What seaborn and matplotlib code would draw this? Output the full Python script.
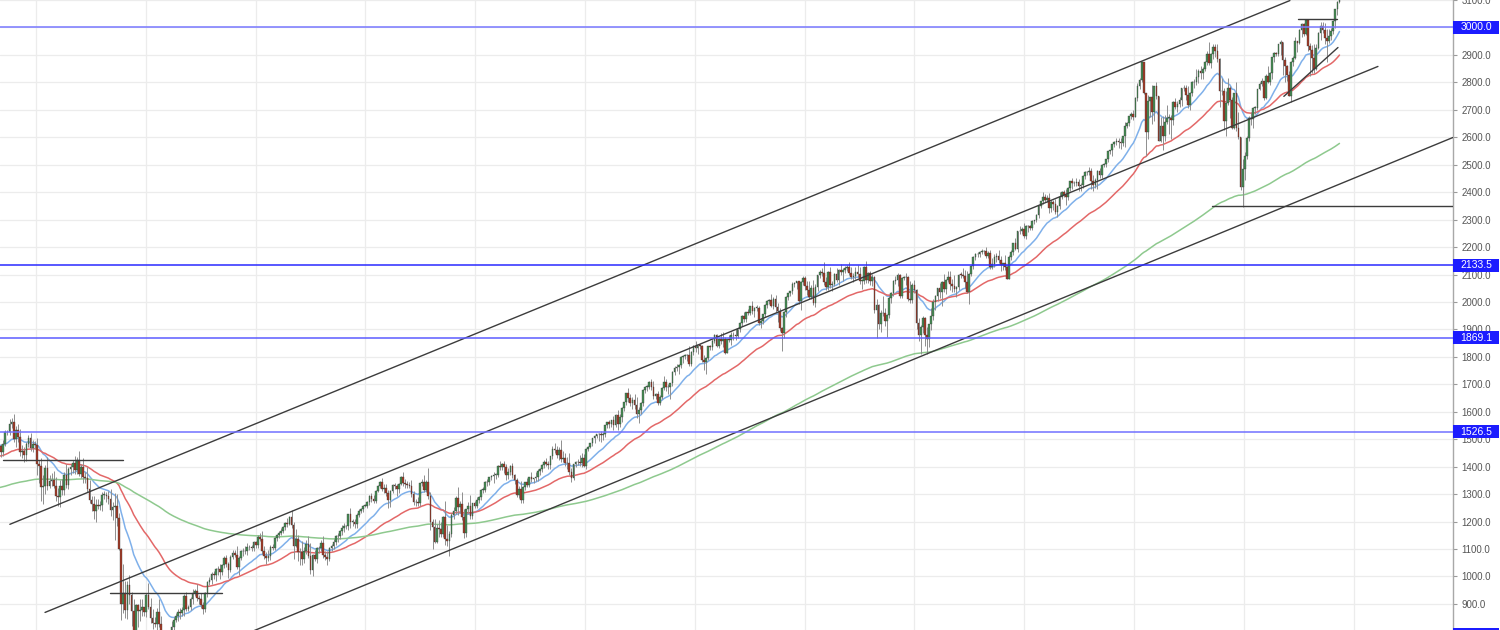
"""Weekly S&P 500 candles 2007-2019 with 20/50/200 week EMAs, channels and levels."""

###########
# Imports #
###########
import numpy as np
import pandas as pd
import matplotlib
matplotlib.use('Agg')
import matplotlib.pyplot as plt
import matplotlib.dates as mdates
from matplotlib.patches import Rectangle
from matplotlib.ticker import FormatStrFormatter
from matplotlib.transforms import blended_transform_factory
import seaborn as sns

########
# Data #
########
# Weekly closes before the visible window (2003-10-31 .. 2007-08-31),
# only used to warm up the moving averages
hist_closes = [
    1051, 1058, 1050, 1035, 1058, 1061, 1074, 1088, 1095,
    # 2004
    1108, 1122, 1139, 1141, 1131, 1142, 1146, 1144, 1145, 1156, 1120, 1109, 1108,
    1141, 1139, 1134, 1140, 1107, 1098, 1096, 1093, 1121, 1123, 1137, 1135, 1141,
    1126, 1112, 1101, 1086, 1101, 1064, 1065, 1099, 1107, 1114, 1123, 1128, 1110,
    1131, 1122, 1109, 1096, 1130, 1166, 1185, 1170, 1183, 1191, 1189, 1195, 1211, 1212,
    # 2005
    1186, 1184, 1168, 1171, 1203, 1201, 1201, 1211, 1222, 1200, 1190, 1172,
    1172, 1182, 1142, 1153, 1157, 1179, 1171, 1190, 1199, 1197, 1201, 1216, 1191,
    1211, 1212, 1228, 1234, 1234, 1227, 1231, 1219, 1206, 1218, 1241, 1238, 1216, 1229,
    1196, 1186, 1178, 1199, 1220, 1235, 1248, 1266, 1265, 1260, 1267, 1268, 1248,
    # 2006
    1286, 1288, 1262, 1283, 1265, 1267, 1289, 1289, 1288, 1281, 1307, 1302, 1295,
    1296, 1289, 1312, 1311, 1326, 1292, 1267, 1280, 1289, 1252, 1257, 1244, 1270,
    1265, 1236, 1240, 1279, 1280, 1266, 1302, 1296, 1312, 1299, 1319, 1315, 1336,
    1350, 1366, 1368, 1377, 1364, 1380, 1400, 1401, 1396, 1409, 1427, 1410, 1418,
    # 2007 Jan-Aug
    1410, 1431, 1431, 1422, 1449, 1438, 1456, 1445, 1387, 1402, 1386, 1436, 1421,
    1444, 1453, 1484, 1495, 1505, 1505, 1522, 1515, 1536, 1507, 1532, 1503, 1503,
    1530, 1552, 1553, 1458, 1433, 1453, 1445, 1479, 1474,
]

# Visible weekly closes, 2007-09-07 .. 2019-11-15
closes = [
    # 2007 Sep-Dec
    1454, 1484, 1525, 1527, 1557, 1561, 1501, 1535, 1509, 1453, 1458, 1441, 1481,
    1504, 1468, 1484, 1478,
    # 2008
    1411, 1401, 1325, 1330, 1395, 1331, 1349, 1353, 1331, 1294, 1288, 1330, 1316,
    1370, 1333, 1390, 1398, 1413, 1388, 1426, 1375, 1400, 1361, 1360, 1318, 1278,
    1263, 1239, 1261, 1257, 1260, 1297, 1298, 1292, 1283, 1242, 1252, 1255, 1213,
    1100, 899, 940, 877, 968, 931, 873, 800, 896, 876, 879, 887, 872,
    # 2009
    931, 890, 850, 832, 826, 869, 826, 770, 735, 683, 756, 768, 816,
    843, 857, 870, 866, 877, 930, 883, 887, 919, 940, 946, 921, 919,
    896, 880, 940, 979, 987, 1010, 1004, 1027, 1029, 1016, 1042, 1068, 1044,
    1025, 1072, 1087, 1080, 1036, 1069, 1093, 1091, 1092, 1106, 1106, 1102, 1126,
    # 2010
    1115, 1145, 1136, 1092, 1074, 1066, 1075, 1109, 1105, 1139, 1150, 1160, 1167,
    1179, 1194, 1192, 1217, 1187, 1111, 1136, 1088, 1089, 1065, 1092, 1117, 1076,
    1023, 1078, 1065, 1102, 1102, 1122, 1079, 1071, 1065, 1104, 1110, 1125, 1149,
    1147, 1165, 1176, 1183, 1183, 1226, 1200, 1200, 1190, 1225, 1240, 1244, 1257, 1258,
    # 2011
    1271, 1293, 1283, 1276, 1311, 1329, 1343, 1320, 1321, 1304, 1279, 1313,
    1332, 1328, 1319, 1337, 1364, 1340, 1338, 1333, 1331, 1300, 1271, 1271, 1268,
    1340, 1344, 1316, 1345, 1292, 1199, 1179, 1124, 1177, 1174, 1154, 1216, 1136, 1131,
    1155, 1225, 1238, 1285, 1253, 1264, 1216, 1159, 1244, 1255, 1219, 1266, 1258,
    # 2012
    1278, 1289, 1315, 1316, 1345, 1343, 1362, 1366, 1370, 1371, 1404, 1397, 1408,
    1398, 1370, 1379, 1403, 1369, 1353, 1295, 1318, 1278, 1325, 1343, 1335, 1362,
    1354, 1357, 1362, 1386, 1391, 1406, 1418, 1411, 1407, 1438, 1466, 1460, 1441,
    1461, 1428, 1433, 1412, 1414, 1380, 1360, 1409, 1416, 1418, 1413, 1430, 1402,
    # 2013
    1466, 1472, 1486, 1503, 1513, 1518, 1520, 1516, 1518, 1551, 1561, 1556, 1569,
    1553, 1588, 1555, 1582, 1614, 1634, 1667, 1650, 1631, 1643, 1626, 1593, 1606,
    1632, 1680, 1692, 1692, 1710, 1691, 1656, 1664, 1633, 1655, 1688, 1710, 1692,
    1690, 1703, 1745, 1760, 1762, 1771, 1798, 1804, 1806, 1805, 1775, 1818, 1841,
    # 2014
    1831, 1842, 1838, 1790, 1782, 1797, 1838, 1836, 1859, 1878, 1841, 1866, 1857,
    1865, 1815, 1864, 1863, 1881, 1878, 1877, 1900, 1924, 1950, 1937, 1963, 1961,
    1985, 1967, 1978, 1978, 1925, 1931, 1955, 1988, 2004, 2008, 1985, 2010, 1982,
    1968, 1906, 1887, 1965, 2018, 2032, 2039, 2064, 2068, 2075, 2002, 2071, 2089,
    # 2015
    2058, 2045, 2019, 2051, 1995, 2055, 2097, 2110, 2105, 2071, 2053, 2108, 2061,
    2067, 2102, 2081, 2117, 2108, 2116, 2122, 2126, 2107, 2092, 2094, 2110, 2101,
    2077, 2077, 2126, 2079, 2104, 2078, 2092, 1971, 1989, 1921, 1961, 1958, 1931,
    1951, 2015, 2033, 2075, 2079, 2100, 2023, 2089, 2090, 2092, 2012, 2006, 2061,
    # 2016
    2044, 1922, 1880, 1907, 1940, 1880, 1865, 1918, 1948, 2000, 2022, 2050, 2036,
    2073, 2048, 2081, 2092, 2065, 2058, 2047, 2053, 2100, 2099, 2096, 2071, 2037,
    2103, 2130, 2162, 2175, 2173, 2183, 2184, 2184, 2169, 2180, 2128, 2139, 2165, 2168,
    2153, 2133, 2141, 2126, 2085, 2164, 2182, 2214, 2192, 2259, 2258, 2264, 2239,
    # 2017
    2277, 2275, 2271, 2295, 2297, 2316, 2351, 2367, 2383, 2373, 2378, 2344, 2363,
    2356, 2329, 2349, 2384, 2399, 2391, 2382, 2416, 2439, 2432, 2433, 2438, 2423,
    2425, 2459, 2473, 2472, 2477, 2441, 2426, 2443, 2477, 2461, 2500, 2502, 2519,
    2549, 2553, 2575, 2581, 2588, 2582, 2579, 2603, 2642, 2652, 2676, 2683, 2674,
    # 2018
    2743, 2787, 2810, 2873, 2762, 2620, 2732, 2747, 2691, 2786, 2752, 2588, 2641,
    2604, 2656, 2670, 2670, 2663, 2728, 2712, 2721, 2735, 2779, 2780, 2755, 2718,
    2760, 2801, 2802, 2819, 2840, 2833, 2850, 2875, 2902, 2872, 2905, 2930, 2914,
    2885, 2767, 2768, 2658, 2723, 2781, 2736, 2633, 2760, 2633, 2600, 2417, 2486,
    # 2019
    2532, 2596, 2671, 2665, 2707, 2708, 2776, 2793, 2804, 2743, 2822, 2801, 2834,
    2893, 2907, 2905, 2940, 2946, 2881, 2860, 2826, 2752, 2873, 2887, 2950, 2942,
    2990, 3014, 2977, 3026, 2932, 2919, 2889, 2847, 2926, 2979, 3007, 2992, 2962,
    2952, 2970, 2986, 3023, 3067, 3093, 3120,
]

# Upper wick (points above the body) for each visible week
wick_up = [
    10, 12, 10, 8, 15, 15, 30, 12, 20, 30, 20, 15, 10, 12, 20, 12, 8,
    # 2008
    25, 15, 30, 40, 10, 40, 20, 25, 30, 30, 30, 20, 25, 10, 40, 10, 12,
    10, 25, 10, 30, 10, 30, 20, 40, 35, 15, 30, 20, 20, 15, 10, 15, 10, 20,
    35, 20, 50, 45, 20, 5, 104, 45, 17, 39, 12, 44, 2, 2, 39, 31, 2,
    # 2009
    10, 45, 30, 30, 20, 15, 50, 30, 25, 20, 10, 35, 20, 10, 10, 10, 15,
    10, 5, 15, 10, 5, 15, 10, 25, 10, 20, 10, 5, 5, 10, 8, 10, 5, 10,
    15, 5, 5, 10, 10, 5, 10, 10, 30, 5, 5, 10, 20, 15, 10, 10, 2,
    # 2010
    5, 5, 15, 30, 20, 15, 20, 5, 10, 5, 5, 5, 10, 5, 5, 20, 5, 25,
    13, 37, 14, 15, 40, 15, 15, 30, 45, 5, 20, 5, 10, 10, 25, 15, 20,
    5, 10, 10, 2, 10, 5, 10, 10, 5, 2, 25, 10, 10, 5, 5, 5, 2, 5,
    # 2011
    5, 3, 10, 15, 5, 3, 5, 15, 15, 15, 10, 2, 5, 10, 10, 5, 2,
    15, 15, 10, 10, 20, 10, 10, 20, 2, 12, 25, 5, 50, 15, 10, 29, 13,
    30, 25, 5, 60, 50, 10, 5, 15, 7, 40, 10, 45, 30, 2, 15, 40, 2, 10,
    # 2012
    10, 5, 2, 10, 2, 10, 2, 5, 10, 5, 2, 15, 5, 14, 10, 15, 2,
    12, 5, 4, 10, 30, 5, 2, 15, 2, 20, 2, 20, 5, 5, 2, 8, 15, 10,
    2, 8, 20, 15, 10, 35, 25, 15, 20, 35, 15, 2, 5, 10, 25, 18, 15,
    # 2013
    2, 5, 2, 2, 2, 2, 4, 10, 8, 2, 3, 10, 2, 15, 5, 20, 10,
    4, 2, 2, 20, 15, 10, 20, 28, 10, 5, 2, 2, 5, 2, 10, 20, 5, 10,
    5, 2, 20, 10, 10, 2, 2, 5, 12, 2, 5, 2, 6, 5, 35, 5, 2,
    # 2014
    15, 2, 5, 5, 15, 2, 2, 5, 5, 5, 5, 2, 20, 25, 7, 2, 15,
    10, 10, 25, 2, 2, 2, 15, 2, 10, 2, 20, 5, 10, 8, 10, 2, 5, 2,
    4, 20, 9, 15, 15, 9, 2, 2, 2, 2, 2, 7, 3, 3, 3, 6, 4,
    # 2015
    4, 20, 30, 10, 30, 10, 2, 5, 15, 40, 20, 5, 20, 10, 3, 20, 3,
    20, 8, 10, 8, 20, 20, 13, 16, 25, 25, 5, 5, 25, 5, 8, 10, 4, 20,
    4, 10, 60, 20, 5, 5, 5, 5, 15, 5, 1, 2, 4, 14, 1, 64, 8,
    # 2016
    20, 2, 20, 10, 10, 7, 30, 2, 30, 10, 2, 2, 20, 3, 30, 3, 20, 20,
    20, 40, 6, 2, 10, 25, 20, 42, 2, 6, 7, 3, 8, 2, 9, 4, 18,
    6, 8, 22, 10, 10, 22, 16, 2, 30, 5, 7, 7, 1, 20, 1, 19, 9, 25,
    # 2017
    5, 5, 5, 5, 3, 3, 2, 2, 17, 10, 10, 20, 7, 10, 20, 5, 15,
    4, 10, 20, 2, 2, 14, 8, 15, 10, 10, 3, 4, 5, 13, 10, 20, 10,
    3, 12, 2, 4, 2, 2, 2, 2, 7, 9, 9, 15, 2, 15, 2, 2, 10, 15,
    # 2018
    5, 10, 5, 5, 0, 1, 22, 0, 42, 0, 15, 0, 33, 35, 24, 47, 13,
    12, 4, 15, 10, 10, 1, 10, 10, 30, 5, 3, 10, 30, 7, 20, 5, 1, 14,
    45, 1, 10, 10, 26, 4, 48, 10, 44, 34, 6, 10, 0, 40, 60, 1, 34,
    # 2019
    15, 10, 5, 20, 2, 7, 0, 7, 12, 0, 8, 38, 2, 0, 3, 4, 0,
    8, 2, 11, 4, 14, 3, 8, 14, 2, 6, 4, 3, 2, 2, 11, 18, 50, 14,
    6, 13, 14, 24, 31, 23, 11, 4, 0, 4, 0,
]

# Lower wick (points below the body) for each visible week
wick_dn = [
    20, 15, 10, 10, 10, 15, 10, 30, 20, 15, 20, 25, 20, 10, 10, 15, 10,
    # 2008
    40, 60, 50, 60, 30, 15, 10, 20, 10, 20, 30, 35, 20, 20, 10, 15, 20,
    20, 15, 15, 10, 15, 20, 20, 10, 10, 25, 30, 40, 10, 15, 20, 15, 20, 20,
    20, 35, 120, 30, 5, 59, 33, 29, 32, 32, 55, 59, 2, 61, 39, 22, 15,
    # 2009
    20, 10, 20, 25, 10, 20, 10, 10, 20, 17, 40, 10, 15, 30, 10, 20, 20,
    10, 20, 10, 10, 10, 20, 10, 10, 20, 10, 15, 10, 15, 10, 15, 15, 20, 20,
    25, 10, 10, 10, 30, 10, 10, 10, 10, 30, 10, 15, 10, 15, 10, 10, 10,
    # 2010
    10, 10, 5, 10, 10, 20, 10, 15, 10, 10, 10, 10, 10, 10, 10, 10, 5, 10,
    46, 5, 32, 48, 25, 15, 10, 10, 15, 20, 10, 15, 15, 10, 10, 10, 25,
    10, 10, 10, 10, 20, 10, 15, 15, 10, 15, 25, 15, 15, 15, 10, 10, 10, 5,
    # 2011
    10, 10, 10, 10, 10, 5, 5, 10, 15, 10, 30, 25, 10, 10, 25, 15, 5,
    10, 15, 10, 10, 10, 10, 15, 10, 10, 10, 10, 10, 10, 31, 78, 2, 3,
    30, 10, 10, 22, 20, 57, 10, 15, 10, 30, 20, 10, 20, 15, 15, 10, 10, 10,
    # 2012
    10, 10, 10, 10, 10, 15, 10, 10, 25, 15, 10, 10, 10, 20, 20, 15, 10,
    10, 15, 5, 10, 10, 10, 10, 10, 10, 10, 15, 10, 15, 15, 10, 10, 10, 15,
    15, 10, 10, 10, 15, 10, 10, 10, 20, 10, 17, 10, 10, 10, 10, 15, 5,
    # 2013
    10, 10, 5, 10, 15, 10, 25, 25, 20, 10, 10, 15, 10, 20, 10, 20, 10,
    20, 10, 10, 15, 10, 20, 15, 16, 33, 15, 10, 10, 15, 10, 10, 10, 10, 10,
    10, 10, 10, 15, 25, 44, 10, 10, 10, 25, 10, 20, 10, 20, 10, 7, 10,
    # 2014
    15, 20, 10, 10, 30, 44, 10, 10, 10, 10, 5, 10, 10, 20, 5, 2, 10,
    20, 15, 15, 10, 10, 10, 10, 10, 10, 10, 10, 20, 10, 10, 20, 10, 10, 10,
    10, 5, 10, 20, 40, 10, 66, 20, 20, 10, 10, 10, 10, 20, 10, 30, 10,
    # 2015
    15, 20, 10, 10, 5, 15, 15, 10, 10, 10, 10, 10, 10, 20, 10, 10, 20,
    10, 30, 10, 10, 10, 10, 20, 10, 10, 10, 30, 10, 10, 10, 15, 20, 10, 104,
    18, 30, 10, 20, 59, 10, 20, 10, 10, 20, 10, 10, 10, 30, 10, 10, 10,
    # 2016
    10, 20, 23, 68, 20, 40, 55, 30, 20, 15, 30, 20, 20, 50, 10, 20, 10, 20,
    20, 10, 28, 10, 10, 10, 20, 5, 46, 10, 10, 10, 10, 10, 10, 10, 10,
    10, 8, 9, 10, 20, 10, 20, 15, 10, 2, 2, 10, 10, 4, 10, 10, 10, 6,
    # 2017
    10, 20, 10, 10, 10, 5, 10, 10, 10, 10, 10, 20, 15, 20, 10, 20, 10,
    10, 10, 30, 10, 10, 20, 10, 10, 20, 20, 10, 10, 10, 10, 30, 20, 10,
    30, 10, 10, 10, 10, 10, 10, 20, 10, 10, 20, 20, 10, 38, 10, 10, 10, 10,
    # 2018
    2, 10, 10, 10, 3, 87, 28, 57, 44, 33, 11, 3, 5, 51, 18, 8, 58,
    69, 20, 10, 20, 10, 20, 10, 20, 10, 20, 10, 20, 10, 20, 20, 20, 10, 10,
    10, 20, 20, 20, 11, 57, 12, 30, 55, 6, 66, 2, 2, 12, 7, 8, 71,
    # 2019
    43, 12, 9, 22, 30, 23, 10, 3, 5, 9, 2, 3, 11, 20, 19, 10, 10,
    40, 56, 59, 21, 2, 24, 13, 2, 30, 2, 24, 7, 5, 18, 97, 55, 13, 2,
    5, 25, 12, 24, 78, 7, 16, 10, 25, 20, 4,
]

# Moving averages (weeks, exponential) and their colours
ma_windows = [20, 50, 200]
ma_colors = ['#7fb0ea', '#e36868', '#8ec98e']

# Horizontal price levels with right-axis tags
level_values = [3000.0, 2133.5, 1869.1, 1526.5, 787.0]
level_colors = ['#7878ff', '#2a2aff', '#5c5cff', '#7070ff', '#5c5cff']

# Drawn trend lines: start date, start price, end date, end price
line_starts = ['2007-10-06', '2008-01-31', '2009-11-06', '2007-09-12',
               '2008-09-04', '2018-09-16', '2019-06-29', '2019-05-14']
line_start_prices = [1190, 869, 780, 1426, 938, 2348, 3029, 2749]
line_ends = ['2019-06-03', '2020-03-22', '2020-11-26', '2008-10-15',
             '2009-09-11', '2020-11-26', '2019-11-06', '2019-11-10']
line_end_prices = [3098, 2858, 2599, 1426, 938, 2348, 3029, 2927]

##########
# Checks #
##########
n = len(closes)
assert len(hist_closes) == 201, len(hist_closes)
assert n == 637, n
assert len(wick_up) == n, len(wick_up)
assert len(wick_dn) == n, len(wick_dn)

##################
# Organize frame #
##################
all_closes = hist_closes + closes
all_dates = pd.date_range(end='2019-11-15', periods=len(all_closes), freq='W-FRI')
dates = all_dates[-n:]

opens = [hist_closes[-1]] + closes[:-1]
candles = pd.DataFrame({'date': dates, 'open': opens, 'close': closes,
                        'up': wick_up, 'dn': wick_dn})
candles['top'] = candles[['open', 'close']].max(axis=1)
candles['bot'] = candles[['open', 'close']].min(axis=1)
candles['high'] = candles['top'] + candles['up']
candles['low'] = candles['bot'] - candles['dn']
candles['x'] = mdates.date2num(candles['date'])

ma = pd.DataFrame({'x': mdates.date2num(all_dates), 'close': all_closes})
ma_names = []
for w in ma_windows:
    name = f'EMA {w}'
    ma[name] = ma['close'].ewm(span=w).mean()
    ma_names.append(name)
ma_long = ma.melt(id_vars='x', value_vars=ma_names, var_name='ma',
                  value_name='value').dropna()

########
# Plot #
########
sns.set_theme(style='white')
plt.rcParams['font.family'] = ['Liberation Sans', 'DejaVu Sans']

fig = plt.figure(figsize=(15, 6.3), dpi=100)
ax = fig.add_axes([0, 0, 1453 / 1500, 1])

# Moving averages
sns.lineplot(data=ma_long, x='x', y='value', hue='ma',
             palette=dict(zip(ma_names, ma_colors)), linewidth=1.1,
             legend=False, ax=ax, zorder=2)

# Candles
rising = candles['close'] >= candles['open']
ax.vlines(candles['x'], candles['low'], candles['high'],
          color='#8e8e8e', linewidth=0.7, zorder=3)
ax.bar(candles['x'], (candles['top'] - candles['bot']).clip(lower=2),
       bottom=candles['bot'], width=5.6,
       color=np.where(rising, '#468f55', '#a63b26'),
       edgecolor='#353535', linewidth=0.25, zorder=4)

# Trend lines
for d0, p0, d1, p1 in zip(line_starts, line_start_prices, line_ends, line_end_prices):
    ax.plot(mdates.date2num(pd.to_datetime([d0, d1])), [p0, p1],
            color='#3c3c3c', linewidth=1.0, zorder=5)

# Levels and their tags on the price scale
tag = blended_transform_factory(ax.transAxes, ax.transData)
tag_w = 46 / 1453
for val, col in zip(level_values, level_colors):
    ax.axhline(val, color=col, linewidth=1.1, zorder=5)
    ax.add_patch(Rectangle((1.0, val - 23.5), tag_w, 47, transform=tag,
                           facecolor='#1c1cff', edgecolor='none',
                           clip_on=False, zorder=10))
    ax.text(1.0 + tag_w / 2, val, f'{val:.1f}', transform=tag, color='white',
            fontsize=7.5, ha='center', va='center', clip_on=False, zorder=11)

# Grid: one vertical line per year, one horizontal line per 100 points
ax.set_xticks(mdates.date2num(pd.date_range('2008-01-01', '2020-01-01', freq='YS')))
ax.set_yticks(np.arange(900, 3101, 100))
ax.yaxis.set_major_formatter(FormatStrFormatter('%.1f'))
ax.grid(True, color='#ececec', linewidth=0.9)
ax.set_axisbelow(True)

# Axes ranges: 2008-01-01 sits 36 px in, 109.8 px per year
jan08 = mdates.date2num(pd.Timestamp('2008-01-01'))
ax.set_xlim(jan08 - 36 / 109.8 * 365.25, jan08 + 1417 / 109.8 * 365.25)
ax.set_ylim(805, 3100.01)

ax.tick_params(axis='x', bottom=False, labelbottom=False)
ax.tick_params(axis='y', left=False, labelleft=False, right=True, labelright=True,
               length=3, width=0.8, color='#9a9a9a', labelcolor='#555555',
               labelsize=7, pad=3)
for side in ['left', 'top', 'bottom']:
    ax.spines[side].set_visible(False)
ax.spines['right'].set_color('#a8a8a8')
ax.spines['right'].set_linewidth(1.0)
ax.set_xlabel('')
ax.set_ylabel('')

fig.savefig('out.png', dpi=100)
plt.close(fig)
